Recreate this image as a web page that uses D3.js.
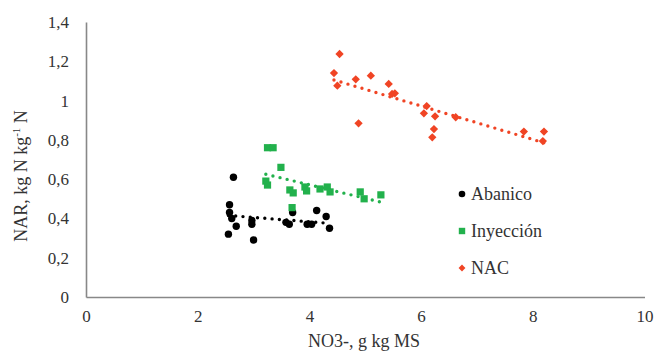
<!DOCTYPE html>
<html>
<head>
<meta charset="utf-8">
<script src="https://cdn.jsdelivr.net/npm/d3@7"></script>
<style>
  body { margin: 0; background: #fff; }
  svg text { font-family: "Liberation Serif", "DejaVu Serif", serif; fill: #333; }
</style>
</head>
<body>
<svg id="chart" width="655" height="356"></svg>
<script>
// values
var abanico = [[2.64,0.61],[2.57,0.47],[2.57,0.43],[2.61,0.40],[2.69,0.36],[2.55,0.32],
  [2.97,0.39],[2.97,0.37],[3.00,0.29],[3.58,0.38],[3.64,0.37],[3.70,0.43],
  [3.96,0.37],[4.04,0.37],[4.13,0.44],[4.30,0.41],[4.36,0.35]];
var inyeccion = [[3.25,0.76],[3.35,0.76],[3.49,0.66],[3.22,0.59],[3.25,0.57],[3.65,0.545],
  [3.71,0.53],[3.69,0.455],[3.92,0.56],[3.95,0.54],[4.19,0.55],[4.32,0.56],[4.37,0.535],
  [4.91,0.535],[4.98,0.50],[5.28,0.52]];
var nac = [[4.54,1.237],[4.44,1.14],[4.50,1.076],[4.83,1.108],[5.10,1.127],[5.42,1.085],
  [5.48,1.034],[5.53,1.037],[4.88,0.884],[6.10,0.972],[6.05,0.935],[6.25,0.92],
  [6.23,0.855],[6.20,0.813],[6.62,0.915],[7.84,0.842],[8.20,0.842],[8.18,0.794]];

// trend lines (end points as seen)
var trendAbanico = [[2.55,0.415],[4.36,0.375]];
var trendInyeccion = [[3.22,0.625],[5.28,0.483]];
var trendNac = [[4.44,1.105],[8.20,0.785]];

var xTicks = [0,2,4,6,8,10];
var yTicks = [0,0.2,0.4,0.6,0.8,1,1.2,1.4];
var names = ["Abanico","Inyección","NAC"];

var serif = '"Liberation Serif", "DejaVu Serif", serif';

var svg = d3.select("#chart");

var x = d3.scaleLinear().domain([0,10]).range([86,644.5]);
var y = d3.scaleLinear().domain([0,1.4]).range([297,22]);

var fmt = function(d){ return String(d3.format(".1~f")(d)).replace(".",","); };

// axes
var xAxis = svg.append("g").attr("transform","translate(0,297)")
  .call(d3.axisBottom(x).tickValues(xTicks).tickSize(0).tickPadding(13).tickFormat(d3.format("d")));
var yAxis = svg.append("g").attr("transform","translate(86,0)")
  .call(d3.axisLeft(y).tickValues(yTicks).tickSize(0).tickPadding(17).tickFormat(fmt));

svg.selectAll(".domain").attr("stroke","#888").attr("stroke-width",1.6);
svg.selectAll(".tick text")
  .style("font-family",serif)
  .style("font-size","17px")
  .attr("fill","#333");

// axis titles
svg.append("text")
  .attr("x",364).attr("y",347)
  .attr("text-anchor","middle")
  .style("font-family",serif)
  .style("font-size","18px")
  .text("NO3-, g kg MS");

var yt = svg.append("text")
  .attr("transform","translate(27,176) rotate(-90)")
  .attr("text-anchor","middle")
  .style("font-family",serif)
  .style("font-size","18px");
yt.append("tspan").text("NAR, kg N kg");
yt.append("tspan").attr("dy",-7).style("font-size","11px").text("-1");
yt.append("tspan").attr("dy",7).text(" N");

// trend lines
var line = d3.line().x(function(d){return x(d[0]);}).y(function(d){return y(d[1]);});

function trend(data,color){
  svg.append("path")
    .attr("d",line(data))
    .attr("fill","none")
    .attr("stroke",color)
    .attr("stroke-width",3.4)
    .attr("stroke-linecap","round")
    .attr("stroke-dasharray","0,7.3");
}

var black = "#000", green = "#22b14c", red = "#f04424";

trend(trendAbanico,black);
trend(trendInyeccion,green);
trend(trendNac,red);

// points
svg.append("g").selectAll("circle").data(abanico).enter().append("circle")
  .attr("cx",function(d){return x(d[0]);})
  .attr("cy",function(d){return y(d[1]);})
  .attr("r",3.7)
  .attr("fill",black);

svg.append("g").selectAll("rect").data(inyeccion).enter().append("rect")
  .attr("x",function(d){return x(d[0])-3.6;})
  .attr("y",function(d){return y(d[1])-3.6;})
  .attr("width",7.2).attr("height",7.2)
  .attr("fill",green);

var diamond = d3.symbol().type(d3.symbolDiamond2).size(44);
svg.append("g").selectAll("path").data(nac).enter().append("path")
  .attr("d",diamond)
  .attr("transform",function(d){return "translate("+x(d[0])+","+y(d[1])+")";})
  .attr("fill",red);

// legend
var leg = svg.append("g");
var legY = [194,231,268];

leg.append("circle").attr("cx",462).attr("cy",legY[0]).attr("r",3.3).attr("fill",black);
leg.append("rect").attr("x",458.8).attr("y",legY[1]-3.2).attr("width",6.4).attr("height",6.4).attr("fill",green);
leg.append("path").attr("d",d3.symbol().type(d3.symbolDiamond2).size(30))
  .attr("transform","translate(462,"+legY[2]+")").attr("fill",red);

leg.selectAll("text").data(names).enter().append("text")
  .attr("x",471)
  .attr("y",function(d,i){return legY[i]+6;})
  .style("font-family",serif)
  .style("font-size","18px")
  .text(function(d){return d;});
</script>
</body>
</html>
